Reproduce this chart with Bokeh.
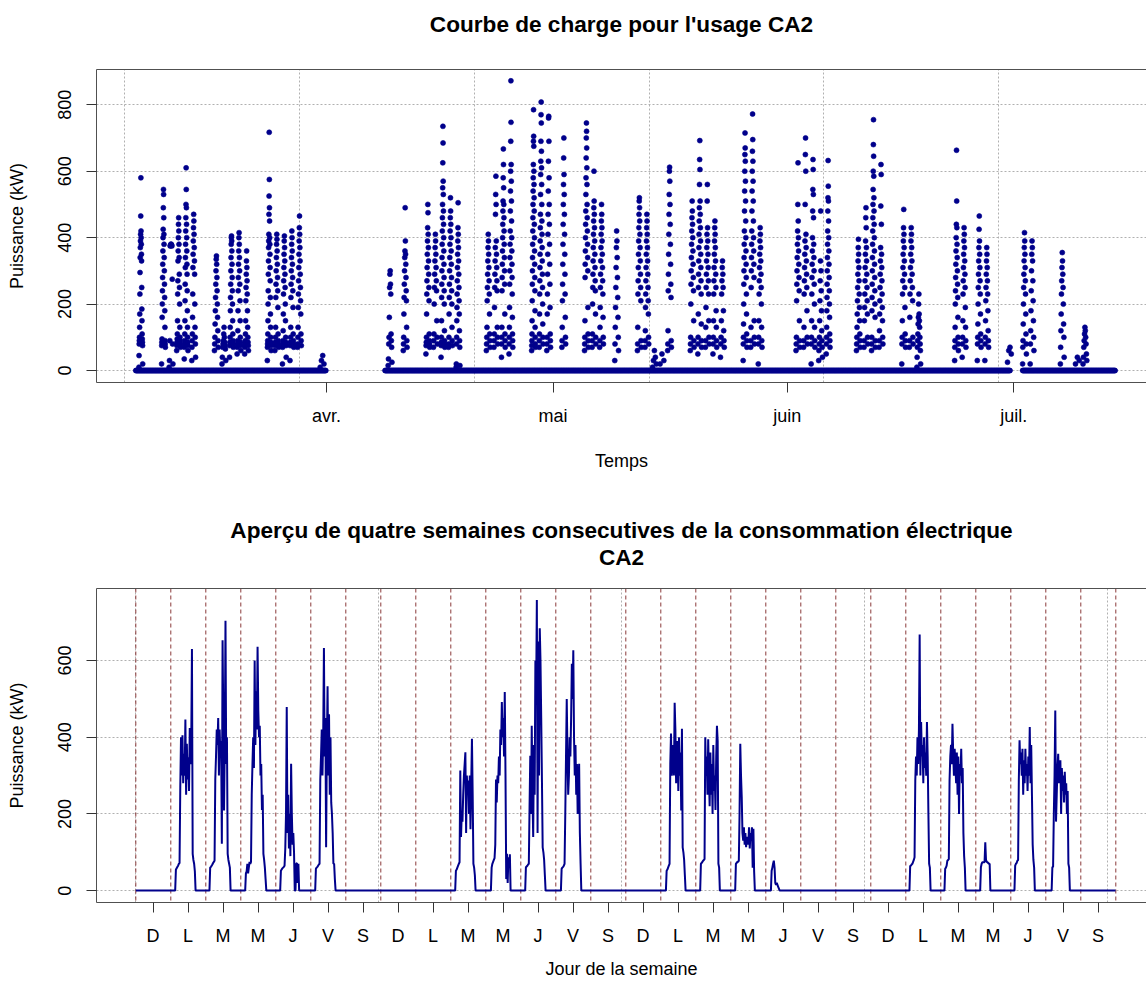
import numpy as np
import pandas as pd
from bokeh.plotting import figure
from bokeh.layouts import column
from bokeh.models import FixedTicker, Span, Range1d, Title, LinearAxis
from bokeh.embed import file_html
from bokeh.resources import INLINE

FONT = "Liberation Sans"
NAVY = "#00008B"
GRID = "#b0b0b0"
FRAME = "#505050"
DAYLINE = "#8b3a3a"

# ======================= TOP CHART DATA =======================
ORIGIN = "2014-04-01"
top_title = "Courbe de charge pour l'usage CA2"
month_ticks = ["2014-04-01", "2014-05-01", "2014-06-01", "2014-07-01"]
month_labels = ["avr.", "mai", "juin", "juil."]
top_yticks = [0, 200, 400, 600, 800]
# periods during which the meter records (value 0 outside working hours)
coverage = [("2014-03-06 18:00", "2014-04-01 00:00"),
            ("2014-04-08 18:00", "2014-06-30 14:00"),
            ("2014-07-02 04:00", "2014-07-14 12:00")]

v0307 = [580, 465, 420, 410, 400, 390, 380, 370, 350, 340, 330, 295, 250, 230, 185, 170, 150, 130, 110, 100, 95, 90, 85, 80, 75, 45, 20, 10]
v0310 = [545, 530, 490, 460, 425, 410, 400, 380, 360, 340, 320, 300, 280, 260, 240, 220, 200, 180, 160, 130, 95, 90, 85, 80, 75, 70, 20]
v0311 = [380, 380, 378, 376, 375, 375, 275, 30, 20, 10, 90, 80]
v0312 = [460, 440, 420, 400, 380, 360, 340, 330, 290, 270, 250, 230, 200, 150, 130, 110, 100, 95, 90, 85, 80, 75, 70, 60]
v0313 = [610, 545, 500, 490, 460, 440, 420, 400, 380, 360, 340, 320, 310, 290, 260, 240, 210, 180, 150, 130, 110, 100, 90, 85, 80, 75, 70, 60, 35]
v0314 = [470, 450, 430, 410, 390, 370, 350, 330, 310, 290, 230, 200, 160, 130, 110, 100, 90, 80, 70, 40, 30]
v0317 = [345, 335, 320, 300, 280, 260, 240, 220, 200, 180, 160, 140, 120, 100, 90, 80, 70, 60]
v0318 = [130, 110, 100, 90, 85, 80, 75, 70, 65, 40, 30, 20]
v0319 = [405, 400, 390, 380, 360, 340, 320, 300, 280, 260, 240, 220, 200, 180, 150, 130, 110, 100, 90, 85, 80, 75, 70, 40]
v0320 = [415, 400, 380, 360, 340, 320, 300, 280, 260, 240, 210, 180, 150, 120, 100, 90, 85, 80, 75, 70, 60, 50]
v0321 = [360, 330, 310, 290, 270, 250, 230, 210, 180, 150, 130, 110, 100, 90, 85, 80, 75, 70, 60, 50]
v0324 = [717, 575, 525, 490, 470, 450, 410, 400, 390, 380, 370, 350, 330, 310, 290, 270, 240, 220, 200, 170, 150, 130, 110, 100, 90, 85, 80, 75, 70, 60, 30]
v0325 = [410, 395, 380, 360, 340, 320, 300, 280, 260, 240, 220, 190, 130, 110, 100, 90, 85, 80, 75, 70, 60]
v0326 = [405, 390, 370, 350, 330, 310, 290, 270, 250, 230, 200, 170, 150, 120, 100, 90, 85, 80, 75, 70, 40, 20]
v0327 = [420, 400, 380, 360, 340, 320, 300, 280, 260, 240, 220, 190, 130, 110, 100, 90, 85, 80, 75, 70, 30]
v0328 = [465, 430, 410, 390, 370, 350, 330, 310, 290, 270, 250, 230, 210, 190, 170, 130, 110, 100, 90, 80, 75, 70]
v0331 = [45, 30, 20, 10]
v0409 = [300, 290, 260, 250, 230, 160, 110, 100, 90, 80, 70, 35, 25, 15]
v0411 = [490, 390, 360, 350, 340, 320, 300, 280, 260, 240, 220, 210, 170, 130, 100, 90, 80, 70, 60]
v0414 = [500, 475, 430, 410, 390, 370, 350, 330, 310, 290, 270, 250, 230, 210, 170, 110, 100, 90, 85, 80, 75, 70, 50]
v0415 = [410, 390, 370, 350, 330, 310, 290, 270, 250, 240, 200, 150, 110, 100, 90, 80, 70]
v0416 = [735, 685, 625, 570, 550, 530, 500, 480, 460, 440, 420, 400, 380, 360, 340, 320, 300, 280, 260, 240, 220, 200, 150, 120, 100, 90, 85, 80, 75, 70, 40]
v0417 = [520, 480, 460, 440, 420, 400, 380, 360, 340, 320, 300, 280, 260, 240, 220, 200, 170, 130, 100, 90, 80, 75, 70]
v0418 = [505, 430, 410, 390, 370, 350, 330, 310, 290, 270, 250, 230, 210, 190, 170, 150, 120, 100, 90, 80, 70, 20, 15, 10]
v0422 = [410, 390, 370, 350, 330, 310, 290, 270, 250, 230, 210, 170, 130, 110, 100, 90, 80, 70, 60]
v0423 = [585, 530, 500, 470, 390, 370, 350, 330, 310, 290, 270, 250, 240, 190, 130, 110, 100, 90, 80, 70]
v0424 = [667, 620, 580, 550, 510, 500, 480, 460, 440, 420, 400, 380, 360, 340, 320, 300, 280, 260, 240, 170, 130, 110, 100, 90, 80, 70, 40]
v0425 = [872, 747, 690, 620, 600, 570, 540, 510, 480, 450, 420, 400, 380, 360, 340, 320, 300, 280, 260, 230, 190, 160, 130, 110, 100, 90, 80, 70, 50]
v0428 = [785, 705, 690, 675, 620, 600, 580, 560, 540, 520, 500, 480, 460, 440, 420, 400, 380, 360, 340, 320, 300, 280, 260, 240, 210, 180, 150, 130, 110, 100, 90, 80, 75, 70, 60]
v0429 = [808, 770, 745, 690, 660, 630, 610, 590, 560, 530, 500, 470, 450, 430, 410, 390, 370, 350, 330, 310, 290, 270, 250, 230, 200, 170, 140, 110, 100, 90, 80, 70]
v0430 = [765, 760, 690, 630, 580, 540, 500, 470, 440, 410, 380, 350, 320, 290, 260, 230, 190, 170, 110, 100, 90, 80, 70, 60]
v0502 = [700, 640, 590, 560, 530, 500, 470, 440, 410, 380, 350, 320, 290, 260, 230, 210, 160, 130, 100, 90, 80, 70]
v0505 = [745, 720, 700, 670, 640, 610, 580, 560, 530, 500, 480, 460, 440, 420, 400, 380, 360, 340, 320, 300, 280, 190, 150, 110, 100, 90, 80, 70, 60]
v0506 = [600, 510, 490, 470, 450, 430, 410, 390, 370, 350, 330, 310, 290, 270, 250, 240, 200, 170, 110, 100, 90, 80, 70]
v0507 = [500, 470, 450, 430, 410, 390, 370, 350, 330, 310, 290, 270, 250, 230, 190, 160, 130, 100, 90, 80, 70]
v0509 = [420, 390, 370, 340, 310, 280, 250, 220, 190, 160, 130, 100, 80, 60, 30]
v0512 = [520, 510, 490, 470, 450, 430, 410, 390, 370, 350, 330, 310, 290, 270, 250, 230, 210, 130, 90, 80, 70, 60]
v0513 = [470, 450, 430, 410, 390, 370, 350, 330, 310, 290, 270, 250, 230, 210, 190, 170, 120, 100, 90, 80, 70]
v0514 = [60, 40, 30, 20, 10]
v0515 = [50, 30, 20]
v0516 = [612, 600, 570, 530, 500, 470, 440, 410, 380, 350, 320, 290, 260, 240, 220, 120, 90, 80, 70, 60]
v0519 = [510, 480, 460, 440, 420, 400, 380, 360, 340, 320, 300, 280, 260, 240, 200, 150, 100, 90, 80, 70, 60]
v0520 = [692, 635, 605, 560, 510, 490, 470, 450, 430, 410, 390, 370, 350, 330, 310, 290, 270, 250, 230, 170, 140, 100, 90, 80, 70, 50]
v0521 = [560, 510, 430, 410, 390, 370, 350, 330, 310, 290, 270, 250, 230, 190, 150, 130, 100, 90, 80, 70]
v0522 = [450, 430, 410, 390, 370, 350, 330, 310, 290, 270, 250, 230, 180, 150, 130, 100, 90, 80, 70, 50]
v0523 = [330, 310, 290, 270, 250, 230, 180, 150, 120, 100, 90, 80, 70, 40]
v0526 = [715, 670, 650, 630, 600, 570, 540, 510, 480, 450, 420, 400, 380, 360, 340, 320, 300, 280, 260, 230, 200, 170, 140, 110, 100, 90, 80, 70, 30]
v0527 = [772, 695, 660, 630, 600, 570, 540, 510, 480, 450, 420, 400, 380, 360, 340, 320, 300, 280, 250, 150, 130, 100, 90, 80, 70]
v0528 = [430, 410, 390, 370, 350, 330, 310, 290, 270, 250, 230, 200, 150, 130, 100, 90, 80, 70, 20]
v0602 = [625, 500, 450, 420, 400, 380, 360, 340, 320, 300, 280, 260, 240, 210, 150, 100, 90, 80, 70, 60]
v0603 = [700, 650, 600, 500, 410, 390, 370, 350, 330, 310, 290, 270, 250, 230, 180, 130, 100, 90, 80, 70]
v0604 = [635, 605, 545, 530, 480, 460, 400, 380, 360, 340, 320, 300, 280, 260, 230, 200, 150, 130, 100, 90, 80, 70, 20]
v0605 = [480, 330, 300, 270, 240, 210, 180, 150, 120, 100, 90, 80, 70, 60, 40, 30]
v0606 = [632, 555, 520, 510, 480, 450, 420, 400, 380, 360, 340, 320, 300, 280, 260, 240, 220, 200, 180, 160, 130, 110, 100, 90, 80, 70, 50]
v0610 = [395, 370, 350, 330, 310, 290, 270, 250, 230, 210, 190, 170, 150, 130, 110, 100, 90, 80, 70, 60]
v0611 = [490, 460, 430, 390, 370, 350, 330, 310, 290, 270, 250, 230, 210, 190, 170, 150, 100, 90, 80, 70]
v0612 = [755, 680, 645, 600, 585, 545, 520, 500, 480, 460, 440, 420, 400, 380, 360, 340, 320, 300, 280, 260, 240, 220, 200, 180, 160, 100, 90, 80, 70, 60]
v0613 = [620, 590, 495, 440, 370, 350, 330, 310, 290, 270, 250, 230, 210, 190, 170, 150, 120, 100, 90, 80, 70]
v0616 = [485, 430, 410, 390, 370, 350, 330, 310, 290, 270, 250, 230, 190, 150, 110, 100, 90, 80, 70, 20]
v0617 = [430, 410, 390, 370, 350, 330, 310, 290, 270, 250, 230, 210, 160, 100, 90, 80, 70]
v0618 = [230, 200, 170, 160, 150, 140, 130, 110, 100, 90, 80, 70, 60, 40, 20, 10]
v0623 = [663, 510, 440, 430, 400, 380, 360, 340, 320, 300, 280, 260, 240, 220, 200, 160, 130, 100, 90, 80, 70, 60, 30]
v0624 = [430, 410, 390, 370, 350, 330, 310, 290, 270, 250, 230, 190, 150, 130, 100, 90, 80, 70, 40]
v0626 = [465, 425, 390, 370, 350, 330, 310, 290, 270, 250, 230, 200, 170, 140, 110, 100, 90, 80, 70, 30]
v0627 = [370, 350, 330, 310, 290, 270, 250, 230, 210, 180, 150, 120, 100, 90, 80, 70, 30]
v0630 = [70, 60, 50, 25]
v0702 = [415, 390, 370, 350, 330, 310, 290, 270, 250, 230, 200, 170, 140, 110, 90, 80, 70, 50, 20]
v0703 = [390, 370, 350, 330, 300, 270, 240, 210, 180, 150, 120, 100, 80, 60, 20]
v0707 = [355, 330, 310, 290, 270, 250, 230, 200, 170, 140, 120, 100, 70, 40, 20]
v0709 = [40, 30, 20]
v0710 = [130, 120, 110, 100, 90, 80, 70, 50, 40, 30, 20]

clusters = [
    ("2014-03-07", v0307), ("2014-03-10", v0310), ("2014-03-11", v0311), ("2014-03-12", v0312),
    ("2014-03-13", v0313), ("2014-03-14", v0314), ("2014-03-17", v0317), ("2014-03-18", v0318),
    ("2014-03-19", v0319), ("2014-03-20", v0320), ("2014-03-21", v0321), ("2014-03-24", v0324),
    ("2014-03-25", v0325), ("2014-03-26", v0326), ("2014-03-27", v0327), ("2014-03-28", v0328),
    ("2014-03-31", v0331), ("2014-04-09", v0409), ("2014-04-11", v0411), ("2014-04-14", v0414),
    ("2014-04-15", v0415), ("2014-04-16", v0416), ("2014-04-17", v0417), ("2014-04-18", v0418),
    ("2014-04-22", v0422), ("2014-04-23", v0423), ("2014-04-24", v0424), ("2014-04-25", v0425),
    ("2014-04-28", v0428), ("2014-04-29", v0429), ("2014-04-30", v0430), ("2014-05-02", v0502),
    ("2014-05-05", v0505), ("2014-05-06", v0506), ("2014-05-07", v0507), ("2014-05-09", v0509),
    ("2014-05-12", v0512), ("2014-05-13", v0513), ("2014-05-14", v0514), ("2014-05-15", v0515),
    ("2014-05-16", v0516), ("2014-05-19", v0519), ("2014-05-20", v0520), ("2014-05-21", v0521),
    ("2014-05-22", v0522), ("2014-05-23", v0523), ("2014-05-26", v0526), ("2014-05-27", v0527),
    ("2014-05-28", v0528), ("2014-06-02", v0602), ("2014-06-03", v0603), ("2014-06-04", v0604),
    ("2014-06-05", v0605), ("2014-06-06", v0606), ("2014-06-10", v0610), ("2014-06-11", v0611),
    ("2014-06-12", v0612), ("2014-06-13", v0613), ("2014-06-16", v0616), ("2014-06-17", v0617),
    ("2014-06-18", v0618), ("2014-06-23", v0623), ("2014-06-24", v0624), ("2014-06-26", v0626),
    ("2014-06-27", v0627), ("2014-06-30", v0630), ("2014-07-02", v0702), ("2014-07-03", v0703),
    ("2014-07-07", v0707), ("2014-07-09", v0709), ("2014-07-10", v0710),
]

# ======================= BOTTOM CHART DATA =======================
bottom_title_1 = "Aperçu de quatre semaines consecutives de la consommation électrique"
bottom_title_2 = "CA2"
day_letters = ["D", "L", "M", "M", "J", "V", "S"] * 4
bottom_yticks = [0, 200, 400, 600]
# half-hourly power (kW) from 03:00 to 17:30 for each working day
mon1 = [0, 55, 58, 62, 65, 70, 72, 270, 400, 300, 405, 280, 357, 300, 446, 250, 383, 290, 348, 260, 424, 330, 380, 630, 96, 80, 70, 50, 0, 0]
tue1 = [60, 62, 65, 68, 72, 75, 78, 290, 350, 420, 380, 450, 300, 420, 350, 390, 122, 653, 450, 209, 380, 704, 330, 400, 96, 80, 70, 60, 0, 0]
wed1 = [0, 45, 50, 70, 45, 60, 75, 70, 75, 250, 330, 400, 320, 600, 380, 520, 420, 636, 470, 400, 430, 300, 330, 210, 250, 96, 80, 60, 30, 0]
thu1 = [0, 52, 55, 58, 60, 62, 65, 110, 200, 479, 150, 250, 110, 200, 90, 331, 200, 120, 150, 100, 0, 0, 70, 72, 20, 70, 0, 0, 0, 0]
fri1 = [0, 57, 60, 62, 65, 68, 70, 290, 350, 420, 300, 400, 633, 350, 450, 113, 375, 533, 300, 460, 250, 400, 230, 200, 150, 70, 70, 30, 0, 0]
tue2 = [0, 52, 55, 60, 65, 70, 74, 313, 140, 200, 180, 250, 300, 330, 361, 150, 300, 250, 287, 200, 300, 160, 280, 396, 250, 70, 60, 40, 0, 0]
wed2 = [0, 0, 60, 70, 75, 80, 85, 120, 290, 230, 300, 280, 350, 300, 420, 380, 492, 400, 450, 350, 518, 305, 30, 96, 20, 87, 60, 95, 0, 0]
thu2 = [0, 61, 63, 65, 68, 70, 218, 352, 200, 430, 250, 140, 380, 250, 600, 500, 758, 150, 650, 300, 684, 600, 450, 287, 113, 100, 80, 40, 0, 0]
fri2 = [0, 0, 57, 60, 62, 65, 70, 200, 350, 500, 357, 250, 300, 400, 350, 450, 592, 500, 627, 400, 300, 380, 250, 330, 200, 280, 331, 150, 70, 0]
mon3 = [0, 0, 52, 55, 60, 65, 70, 331, 410, 300, 350, 380, 300, 490, 420, 280, 350, 390, 260, 400, 300, 360, 209, 422, 113, 100, 80, 40, 0, 0]
tue3 = [0, 70, 72, 75, 78, 80, 82, 400, 300, 350, 250, 395, 300, 220, 360, 250, 330, 200, 380, 260, 300, 210, 350, 430, 390, 70, 60, 0, 0, 0]
wed3 = [0, 70, 72, 75, 75, 78, 200, 383, 300, 244, 150, 130, 165, 120, 150, 113, 140, 130, 120, 165, 110, 150, 130, 165, 60, 161, 50, 0, 0, 0]
thu3 = [0, 0, 52, 60, 70, 78, 60, 20, 15, 20, 15, 10, 5, 0, 0, 0, 0, 0, 0, 0, 0, 0, 0, 0, 0, 0, 0, 0, 0, 0]
mon4 = [65, 65, 68, 70, 75, 80, 87, 287, 350, 300, 400, 330, 420, 668, 300, 440, 350, 380, 280, 400, 320, 360, 300, 440, 350, 200, 70, 60, 0, 0]
tue4 = [57, 60, 65, 78, 80, 82, 287, 350, 380, 330, 435, 360, 300, 370, 330, 280, 360, 250, 350, 200, 330, 300, 370, 280, 320, 150, 90, 60, 0, 0]
wed4 = [0, 61, 70, 74, 74, 74, 74, 126, 80, 75, 74, 72, 70, 70, 0, 0, 0, 0, 0, 0, 0, 0, 0, 0, 0, 0, 0, 0, 0, 0]
thu4 = [65, 70, 72, 78, 80, 287, 392, 330, 360, 300, 370, 250, 340, 280, 370, 300, 330, 260, 350, 300, 427, 280, 380, 250, 120, 80, 60, 0, 0, 0]
fri4 = [0, 0, 0, 61, 62, 200, 300, 470, 180, 250, 320, 357, 280, 300, 340, 200, 320, 260, 300, 230, 310, 250, 280, 200, 260, 70, 60, 0, 0, 0]
# day number (0 = first Sunday) -> profile
working_days = {1: mon1, 2: tue1, 3: wed1, 4: thu1, 5: fri1,
                9: tue2, 10: wed2, 11: thu2, 12: fri2,
                15: mon3, 16: tue3, 17: wed3, 18: thu3,
                22: mon4, 23: tue4, 24: wed4, 25: thu4, 26: fri4}

# ======================= BUILD TOP =======================
def to_days(ts):
    return (pd.Timestamp(ts) - pd.Timestamp(ORIGIN)) / pd.Timedelta(days=1)

tx, ty = [], []
for a, b in coverage:
    t = np.arange(to_days(a), to_days(b), 1.0 / 12.0)
    tx.extend(t.tolist())
    ty.extend([0.0] * len(t))
for d, vals in clusters:
    s = sorted(vals)
    order = s[0::2] + s[1::2][::-1]
    n = len(order)
    base = to_days(d)
    for j, v in enumerate(order):
        h = 4.0 + 12.0 * j / max(n - 1, 1)
        tx.append(base + h / 24.0)
        ty.append(v)

origin_sec = pd.Timestamp(ORIGIN).timestamp()
top_vgrid = [(n * 2e6 - origin_sec) / 86400.0 for n in range(697, 703)]


def style(p):
    p.background_fill_color = "white"
    p.border_fill_color = "white"
    p.outline_line_color = None
    for ax in p.axis:
        ax.axis_line_color = FRAME
        ax.axis_line_width = 1
        ax.major_tick_line_color = "#333333"
        ax.major_tick_in = 0
        ax.major_tick_out = 10
        ax.minor_tick_line_color = None
        ax.major_label_text_font = FONT
        ax.major_label_text_font_size = "18px"
        ax.major_label_text_color = "black"
        ax.axis_label_text_font = FONT
        ax.axis_label_text_font_size = "18px"
        ax.axis_label_text_font_style = "normal"
        ax.axis_label_text_color = "black"
    for g in p.grid:
        g.grid_line_color = GRID
        g.grid_line_dash = "2 2"
        g.grid_line_width = 1
    # top edge of the box
    top = LinearAxis(ticker=FixedTicker(ticks=[]), axis_line_color=FRAME,
                     major_tick_line_color=None, minor_tick_line_color=None,
                     major_tick_in=0, major_tick_out=0, major_label_standoff=0)
    p.add_layout(top, "above")


def spacer(gap):
    # empty title used only to keep the real title away from the frame
    return Title(text=" ", text_font_size="1px", standoff=gap)


def title(text):
    return Title(text=text, align="center", standoff=0,
                 text_font=FONT, text_font_size="22.6px", text_font_style="bold",
                 text_color="black")


X0 = -30.45
X1 = 108.57
p1 = figure(width=1146, height=486, output_backend="svg", toolbar_location=None,
            x_range=Range1d(X0, X1), y_range=Range1d(-36, 906),
            min_border_left=96, min_border_right=0, min_border_top=69, min_border_bottom=104)
p1.scatter(tx, ty, marker="circle", size=5, fill_color=NAVY, line_color=NAVY, line_width=0.6)
p1.xaxis.ticker = FixedTicker(ticks=[to_days(m) for m in month_ticks])
p1.xaxis.major_label_overrides = {to_days(m): lab for m, lab in zip(month_ticks, month_labels)}
p1.yaxis.ticker = FixedTicker(ticks=top_yticks)
p1.xgrid.ticker = FixedTicker(ticks=top_vgrid)
p1.ygrid.ticker = FixedTicker(ticks=top_yticks)
p1.xaxis.axis_label = "Temps"
p1.yaxis.axis_label = "Puissance (kW)"
style(p1)
p1.yaxis.major_label_orientation = "vertical"
p1.xaxis.major_label_standoff = 13
p1.xaxis.axis_label_standoff = 22
p1.yaxis.major_label_standoff = 15
p1.yaxis.axis_label_standoff = 29
p1.add_layout(spacer(30), "above")
p1.add_layout(title(top_title), "above")

# ======================= BUILD BOTTOM =======================
SPD = 144  # 10-minute samples per day
bx, by = [], []
for k in range(len(day_letters)):
    prof = working_days.get(k)
    for s in range(48):
        idx = 1 + SPD * k + 3 * s
        v = 0
        if prof is not None and 6 <= s < 6 + len(prof):
            v = prof[s - 6]
        bx.append(idx)
        by.append(v)
bx.append(SPD * len(day_letters))
by.append(0)

tick_pos = [72 + SPD * k for k in range(len(day_letters))]

p2 = figure(width=1146, height=504, output_backend="svg", toolbar_location=None,
            x_range=Range1d(-160.7, 4159.3), y_range=Range1d(-31, 788),
            min_border_left=96, min_border_right=0, min_border_top=102, min_border_bottom=88)
for k in range(len(day_letters) + 1):
    p2.add_layout(Span(location=1 + SPD * k, dimension="height", line_color=DAYLINE,
                       line_dash="4 3", line_width=1, level="underlay"))
p2.line(bx, by, line_color=NAVY, line_width=2)
p2.xaxis.ticker = FixedTicker(ticks=tick_pos)
p2.xaxis.major_label_overrides = {t: lab for t, lab in zip(tick_pos, day_letters)}
p2.yaxis.ticker = FixedTicker(ticks=bottom_yticks)
p2.xgrid.ticker = FixedTicker(ticks=[0, 1000, 2000, 3000, 4000])
p2.ygrid.ticker = FixedTicker(ticks=bottom_yticks)
p2.xaxis.axis_label = "Jour de la semaine"
p2.yaxis.axis_label = "Puissance (kW)"
style(p2)
p2.yaxis.major_label_orientation = "vertical"
p2.xaxis.major_label_standoff = 13
p2.xaxis.axis_label_standoff = 10
p2.yaxis.major_label_standoff = 15
p2.yaxis.axis_label_standoff = 29
p2.add_layout(spacer(16), "above")
p2.add_layout(title(bottom_title_2), "above")
p2.add_layout(title(bottom_title_1), "above")

layout = column(p1, p2)
open("out.html", "w").write(file_html(layout, INLINE))
